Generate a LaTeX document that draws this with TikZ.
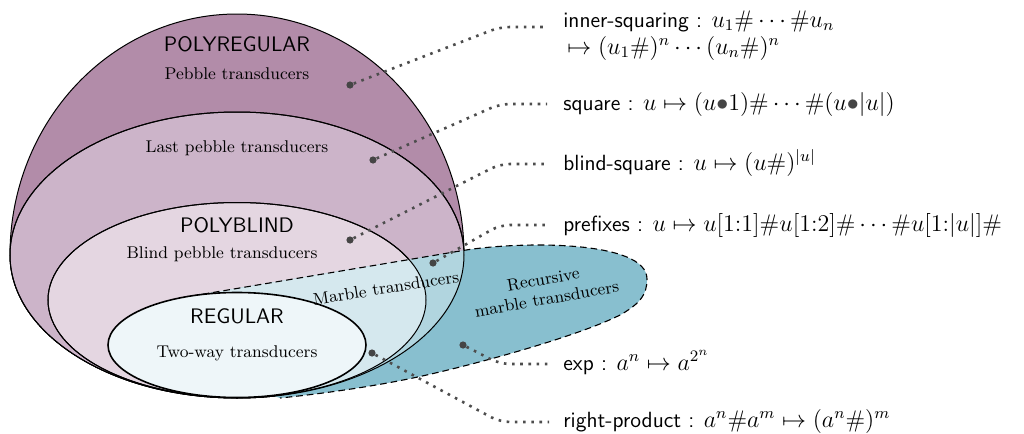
\documentclass[tikz,border=0pt]{standalone}
\definecolor{outercol}{HTML}{B28CA9}
\definecolor{pebblecol}{HTML}{CCB4C9}
\definecolor{blindcol}{HTML}{E4D6E1}
\definecolor{regcol}{HTML}{EEF6F9}
\definecolor{marblelight}{HTML}{D5E8EE}
\definecolor{marblemid}{HTML}{B1D5DF}
\definecolor{reccol}{HTML}{88BFCF}
\definecolor{dotcol}{HTML}{454545}
\definecolor{leadcol}{HTML}{4D4D4D}
\newcommand{\mth}[1]{{\fontsize{12}{14}\selectfont$#1$}}
\begin{document}
\begin{tikzpicture}[x=0.5pt,y=-0.5pt,
  region/.style={draw=black,line width=0.5pt},
  sanslab/.style={font=\sffamily\fontsize{10.5}{13}\selectfont,inner sep=0pt},
  seriflab/.style={font=\rmfamily\fontsize{8.5}{9.2}\selectfont,inner sep=0pt},
  exlab/.style={font=\sffamily\fontsize{11}{13}\selectfont,inner sep=0pt,anchor=base west},
  pindot/.style={circle,fill=dotcol,inner sep=0pt,minimum size=3.6pt},
  leader/.style={draw=leadcol,line width=1.3pt,dash pattern=on 1.3pt off 2.8pt,rounded corners=5pt},
  recborder/.style={draw=black,line width=0.55pt,dash pattern=on 3.3pt off 2pt}
]
\useasboundingbox (0,0) rectangle (1024,434);

% outer POLYREGULAR region
\path[region,fill=outercol] (10,255) arc[start angle=180,end angle=0,x radius=113.5pt,y radius=120.5pt]
  arc[start angle=0,end angle=-180,x radius=113.5pt,y radius=71.5pt] -- cycle;
% last pebble
\path[region,fill=pebblecol] (237,255) ellipse[x radius=113.5pt,y radius=71.5pt];
% polyblind
\path[region,fill=blindcol] (237,300) ellipse[x radius=94.5pt,y radius=48.75pt];

% recursive marble region
\path[fill=reccol] (192,296) -- (463,250.5) .. controls (520,241) and (647,240) .. (647,279)
  .. controls (647,295) and (640,303) .. (622,314) .. controls (580,336) and (470,366) .. (413,378)
  .. controls (370,387) and (320,394) .. (280,398) -- (240,385) -- (200,320) -- cycle;
\begin{scope}
  \clip (237,255) ellipse[x radius=113.5pt,y radius=71.5pt];
  \path[fill=marblemid] (192,296) -- (463,250.5) .. controls (520,241) and (647,240) .. (647,279)
  .. controls (647,295) and (640,303) .. (622,314) .. controls (580,336) and (470,366) .. (413,378)
  .. controls (370,387) and (320,394) .. (280,398) -- (240,385) -- (200,320) -- cycle;
\end{scope}
\begin{scope}
  \clip (237,300) ellipse[x radius=94.5pt,y radius=48.75pt];
  \path[fill=marblelight] (192,296) -- (463,250.5) .. controls (520,241) and (647,240) .. (647,279)
  .. controls (647,295) and (640,303) .. (622,314) .. controls (580,336) and (470,366) .. (413,378)
  .. controls (370,387) and (320,394) .. (280,398) -- (240,385) -- (200,320) -- cycle;
\end{scope}
% outlines over the blue
\path[region] (237,255) ellipse[x radius=113.5pt,y radius=71.5pt];
\path[region] (237,300) ellipse[x radius=94.5pt,y radius=48.75pt];
\path[recborder] (192,296) -- (463,250.5) .. controls (520,241) and (647,240) .. (647,279)
  .. controls (647,295) and (640,303) .. (622,314) .. controls (580,336) and (470,366) .. (413,378)
  .. controls (370,387) and (320,394) .. (280,398);

% regular
\path[draw=black,line width=0.8pt,fill=regcol] (237,345) ellipse[x radius=64.5pt,y radius=26.25pt];

% region labels
\node[sanslab] (polyreg) at (237,44) {POLYREGULAR};
\node[seriflab] (pebble) at (237,74) {Pebble transducers};
\node[seriflab] (lastpebble) at (237,148) {Last pebble transducers};
\node[sanslab] (polyblind) at (237,225) {POLYBLIND};
\node[seriflab] (blindpebble) at (222,254) {Blind pebble transducers};
\node[sanslab] (regular) at (237,316) {REGULAR};
\node[seriflab] (twoway) at (237,353) {Two-way transducers};
\node[seriflab,rotate=9] (marble) at (386,288) {Marble transducers};
\node[seriflab,font=\rmfamily\fontsize{8.5}{9.9}\selectfont,rotate=10,align=center] (recmarble) at (545,289) {Recursive\\marble transducers};

% example dots
\node[pindot] (d1) at (350,85) {};
\node[pindot] (d2) at (373,160) {};
\node[pindot] (d3) at (350,240) {};
\node[pindot] (d4) at (433,263) {};
\node[pindot] (d5) at (372,353) {};
\node[pindot] (d6) at (463,345) {};

% example texts
\node[exlab] (t1) at (563,27) {inner-squaring : \mth{u_1\#\cdots\#u_n}};
\node[exlab] (t1b) at (567,54) {\mth{\mapsto(u_1\#)^n\cdots(u_n\#)^n}};
\node[exlab] (t2) at (563,110) {square : \mth{u\mapsto(u{\color{dotcol}\bullet}1)\#\cdots\#(u{\color{dotcol}\bullet}|u|)}};
\node[exlab] (t3) at (563,170) {blind-square : \mth{u\mapsto(u\#)^{|u|}}};
\node[exlab] (t4) at (563,231) {prefixes : \mth{u\mapsto u[1{:}1]\#u[1{:}2]\#\cdots\#u[1{:}|u|]\#}};
\node[exlab] (t6) at (563,370) {exp : \mth{a^n\mapsto a^{2^n}}};
\node[exlab] (t5) at (563,427) {right-product : \mth{a^n\#a^m\mapsto(a^n\#)^m}};

% leader coordinates
\coordinate (k1) at (500,27);  \coordinate (e1) at (547,27);
\coordinate (k2) at (500,104); \coordinate (e2) at (547,104);
\coordinate (k3) at (500,164); \coordinate (e3) at (547,164);
\coordinate (k4) at (500,225); \coordinate (e4) at (547,225);
\coordinate (k6) at (500,364); \coordinate (e6) at (549,364);
\coordinate (k5) at (500,422); \coordinate (e5) at (549,422);

\draw[leader] (d1) -- (k1) -- (e1);
\draw[leader] (d2) -- (k2) -- (e2);
\draw[leader] (d3) -- (k3) -- (e3);
\draw[leader] (d4) -- (k4) -- (e4);
\draw[leader] (d6) -- (k6) -- (e6);
\draw[leader] (d5) -- (k5) -- (e5);
\end{tikzpicture}
\end{document}
